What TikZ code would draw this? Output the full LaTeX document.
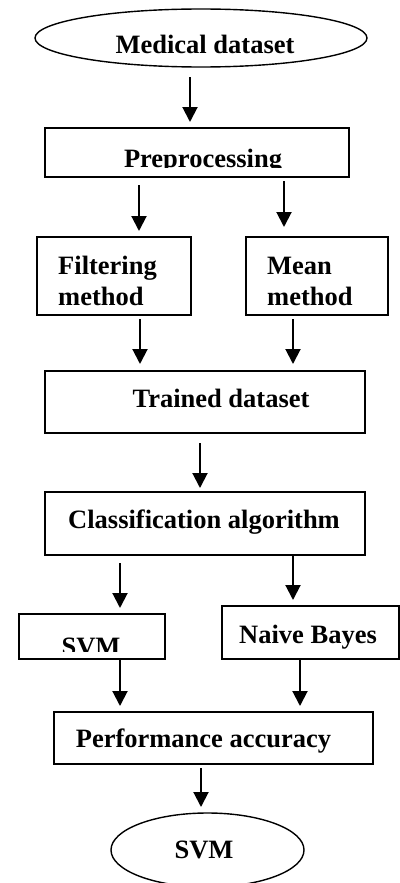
\documentclass[tikz,border=0pt]{standalone}
\usepackage{fontspec}
\setmainfont{Liberation Serif}
\usetikzlibrary{arrows.meta,shapes.geometric}
\begin{document}
\begin{tikzpicture}[x=1pt,y=-1pt,
  box/.style={draw, line width=1.6pt, rectangle, inner sep=0pt, outer sep=0pt},
  oval/.style={draw, line width=1.4pt, ellipse, inner sep=0pt, outer sep=0pt},
  lbl/.style={anchor=base, inner sep=0pt, font=\fontsize{26.5}{32}\selectfont\bfseries},
  lbll/.style={lbl, anchor=base west},
  arr/.style={line width=2pt, -{Triangle[length=15pt,width=15pt]}}]
\useasboundingbox (0,0) rectangle (399,883);
% shapes
\node[oval, minimum width=332pt, minimum height=58pt] (med) at (201,38) {};
\node[box, minimum width=304pt, minimum height=49pt] (pre) at (197,152.5) {};
\node[box, minimum width=154pt, minimum height=78pt] (fil) at (114,276) {};
\node[box, minimum width=142pt, minimum height=78pt] (mean) at (317,276) {};
\node[box, minimum width=320pt, minimum height=62pt] (tr) at (205,402) {};
\node[box, minimum width=320pt, minimum height=63pt] (cls) at (205,523.5) {};
\node[box, minimum width=146pt, minimum height=45pt] (svm) at (92,636.5) {};
\node[box, minimum width=177pt, minimum height=53pt] (nb) at (310.5,632.5) {};
\node[box, minimum width=319pt, minimum height=52pt] (perf) at (213.5,738) {};
\node[oval, minimum width=193pt, minimum height=74pt] (out) at (207.5,850) {};
% texts
\node[lbl] (tmed) at (205,53) {Medical dataset};
\begin{scope}
  \clip (pre.north west) rectangle ([yshift=10pt]pre.south east);
  \node[lbl] (tpre) at (203,167) {Preprocessing};
\end{scope}
\node[lbll] (tfil1) at (58,274) {Filtering};
\node[lbll] (tfil2) at (58,305) {method};
\node[lbll] (tmean1) at (267,274) {Mean};
\node[lbll] (tmean2) at (267,305) {method};
\node[lbl] (ttr) at (221,407) {Trained dataset};
\node[lbl] (tcls) at (204,528) {Classification algorithm};
\begin{scope}
  \clip (svm.north west) rectangle ([yshift=8pt]svm.south east);
  \node[lbl] (tsvm) at (91,655) {SVM};
\end{scope}
\node[lbl] (tnb) at (308,643) {Naive Bayes};
\node[lbl] (tperf) at (203.5,747) {Performance accuracy};
\node[lbl] (tout) at (204,858) {SVM};
% arrow columns
\coordinate (c1) at (190,0);
\coordinate (c2) at (139,0);
\coordinate (c3) at (284,0);
\coordinate (c4) at (140,0);
\coordinate (c5) at (293,0);
\coordinate (c6) at (200,0);
\coordinate (c7) at (120,0);
\coordinate (c8) at (293,0);
\coordinate (c9) at (120,0);
\coordinate (c10) at (300,0);
\coordinate (c11) at (201,0);
% arrows
\draw[arr, shorten <=10pt, shorten >=6pt] (med.south -| c1) -- (pre.north -| c1);
\draw[arr, shorten <=8pt, shorten >=6pt] (pre.south -| c2) -- (fil.north -| c2);
\draw[arr, shorten <=4pt, shorten >=10pt] (pre.south -| c3) -- (mean.north -| c3);
\draw[arr, shorten <=4pt, shorten >=7pt] (fil.south -| c4) -- (tr.north -| c4);
\draw[arr, shorten <=4pt, shorten >=7pt] (mean.south -| c5) -- (tr.north -| c5);
\draw[arr, shorten <=10pt, shorten >=4pt] (tr.south -| c6) -- (cls.north -| c6);
\draw[arr, shorten <=8pt, shorten >=6pt] (cls.south -| c7) -- (svm.north -| c7);
\draw[arr, shorten >=6pt] (cls.south -| c8) -- (nb.north -| c8);
\draw[arr, shorten >=6pt] (svm.south -| c9) -- (perf.north -| c9);
\draw[arr, shorten >=6pt] (nb.south -| c10) -- (perf.north -| c10);
\draw[arr, shorten <=4pt, shorten >=6pt] (perf.south -| c11) -- (out.north -| c11);
\end{tikzpicture}
\end{document}
